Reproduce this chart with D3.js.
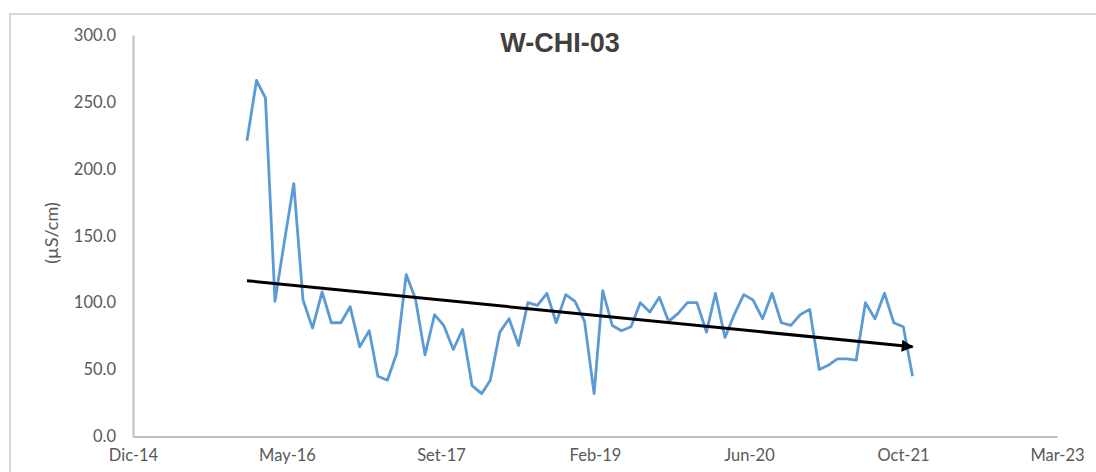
<!DOCTYPE html>
<html>
<head>
<meta charset="utf-8">
<script src="https://cdn.jsdelivr.net/npm/d3@7"></script>
<style>
  body { margin: 0; background: #fff; }
  svg { display: block; }
</style>
</head>
<body>
<svg width="1096" height="472"></svg>
<script>
// Monthly readings, Jan 2016 - Dec 2021
const months = d3.timeMonth.range(new Date(2016, 0, 1), new Date(2022, 0, 1));
const values = [
  221, 266, 253, 101, 145, 189, 102, 81, 108, 85, 85, 97,
  67, 79, 45, 42, 62, 121, 103, 61, 91, 83, 65, 80,
  38, 32, 42, 78, 88, 68, 100, 98, 107, 85, 106, 101,
  86, 32, 109, 83, 79, 82, 100, 93, 104, 86, 92, 100,
  100, 78, 107, 74, 91, 106, 102, 88, 107, 85, 83, 91,
  95, 50, 53, 58, 58, 57, 100, 88, 107, 85, 82, 45
];
// trend line end points (start, end)
const trendDates = [new Date(2016, 0, 1), new Date(2021, 11, 1)];
const trendValues = [116.4, 67];

const xTickLabels = ["Dic-14", "May-16", "Set-17", "Feb-19", "Jun-20", "Oct-21", "Mar-23"];
const yTicks = [0, 50, 100, 150, 200, 250, 300];

const data = months.map((d, i) => ({ date: d, value: values[i] }));
const trend = trendDates.map((d, i) => ({ date: d, value: trendValues[i] }));

const svg = d3.select("svg");
const margin = { top: 35, right: 39, bottom: 35.5, left: 133 };
const width = +svg.attr("width") - margin.left - margin.right;
const height = +svg.attr("height") - margin.top - margin.bottom;

// outer chart frame
svg.append("rect")
  .attr("x", 10).attr("y", 14)
  .attr("width", 1100).attr("height", 480)
  .attr("fill", "none")
  .attr("stroke", "#d9d9d9")
  .attr("stroke-width", 2);

const g = svg.append("g").attr("transform", `translate(${margin.left},${margin.top})`);

// date axis: Excel style, 500 day major unit
const start = new Date(2014, 11, 27);
const x = d3.scaleTime().domain([start, d3.timeDay.offset(start, 3000)]).range([0, width]);
const y = d3.scaleLinear().domain([0, 300]).range([height, 0]);
const xTicks = xTickLabels.map((l, i) => d3.timeDay.offset(start, 500 * i));

const xAxis = g.append("g")
  .attr("transform", `translate(0,${height})`)
  .call(d3.axisBottom(x).tickValues(xTicks).tickSize(0).tickPadding(13)
    .tickFormat((d, i) => xTickLabels[i]));

const yAxis = g.append("g")
  .call(d3.axisLeft(y).tickValues(yTicks).tickSize(0).tickPadding(17)
    .tickFormat(d3.format(".1f")));

[xAxis, yAxis].forEach(a => {
  a.select(".domain").attr("stroke", "#bfbfbf").attr("stroke-width", 2);
  a.selectAll("text")
    .attr("fill", "#595959")
    .style("font-family", "Lato, 'Open Sans', sans-serif")
    .style("font-size", "16.5px");
});

// series line
g.append("path")
  .datum(data)
  .attr("fill", "none")
  .attr("stroke", "#5b9bd5")
  .attr("stroke-width", 2.8)
  .attr("stroke-linejoin", "round")
  .attr("d", d3.line().x(d => x(d.date)).y(d => y(d.value)));

// trend arrow
svg.append("defs").append("marker")
  .attr("id", "arrow")
  .attr("viewBox", "0 0 10 10")
  .attr("refX", 9).attr("refY", 5)
  .attr("markerWidth", 5).attr("markerHeight", 4)
  .attr("orient", "auto")
  .append("path")
  .attr("d", "M0,0L10,5L0,10z")
  .attr("fill", "#000");

g.append("path")
  .datum(trend)
  .attr("fill", "none")
  .attr("stroke", "#000")
  .attr("stroke-width", 3)
  .attr("marker-end", "url(#arrow)")
  .attr("d", d3.line().x(d => x(d.date)).y(d => y(d.value)));

// title
svg.append("text")
  .attr("x", 560).attr("y", 52)
  .attr("text-anchor", "middle")
  .attr("fill", "#404040")
  .style("font-family", "'Liberation Sans', Arial, sans-serif")
  .style("font-weight", "bold")
  .style("font-size", "27px")
  .text("W-CHI-03");

// y axis label
svg.append("text")
  .attr("text-anchor", "middle")
  .attr("transform", `translate(58, ${233}) rotate(-90)`)
  .attr("fill", "#595959")
  .style("font-family", "Lato, 'Open Sans', sans-serif")
  .style("font-size", "18px")
  .text("(µS/cm)");
</script>
</body>
</html>
